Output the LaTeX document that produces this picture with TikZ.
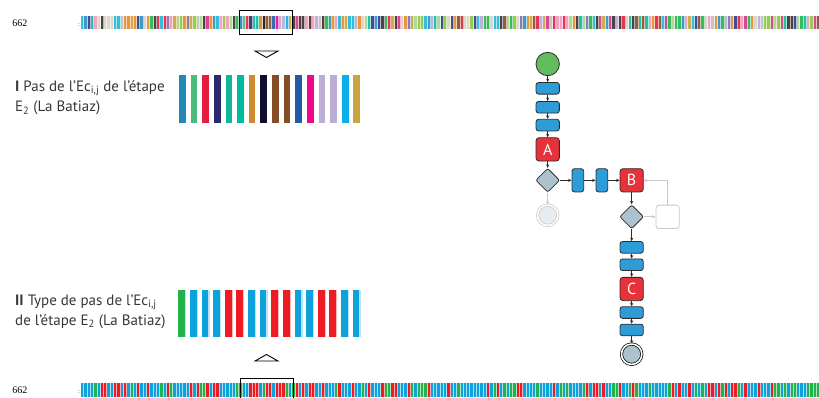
\documentclass[tikz,border=0pt]{standalone}
\usepackage{fontspec}
\setmainfont{PT Sans}
\newfontfamily\numfont{Liberation Serif}
\usetikzlibrary{shapes.geometric, arrows.meta, positioning}
\definecolor{linedark}{RGB}{45, 45, 45}
\definecolor{textgray}{RGB}{55, 55, 55}
\definecolor{taskblue}{RGB}{46, 157, 215}
\definecolor{actred}{RGB}{230, 50, 56}
\definecolor{gatebg}{RGB}{174, 194, 206}
\definecolor{startgreen}{RGB}{98, 187, 92}
\definecolor{ghostgray}{RGB}{200, 200, 200}
\definecolor{ghostfill}{RGB}{230, 236, 240}
% panel I
\definecolor{pa1}{RGB}{33, 137, 182}
\definecolor{pa2}{RGB}{76, 187, 127}
\definecolor{pa3}{RGB}{226, 31, 61}
\definecolor{pa4}{RGB}{44, 42, 108}
\definecolor{pa5}{RGB}{18, 183, 155}
\definecolor{pa6}{RGB}{0, 185, 161}
\definecolor{pa7}{RGB}{206, 138, 45}
\definecolor{pa8}{RGB}{15, 15, 45}
\definecolor{pa9}{RGB}{133, 78, 38}
\definecolor{pa10}{RGB}{133, 78, 38}
\definecolor{pa11}{RGB}{33, 90, 169}
\definecolor{pa12}{RGB}{236, 7, 141}
\definecolor{pa13}{RGB}{187, 173, 211}
\definecolor{pa14}{RGB}{187, 173, 211}
\definecolor{pa15}{RGB}{12, 174, 230}
\definecolor{pa16}{RGB}{201, 165, 64}
% panel II
\definecolor{typegreen}{RGB}{34, 177, 76}
\definecolor{typeblue}{RGB}{14, 162, 220}
\definecolor{typered}{RGB}{237, 28, 36}
% top strip palette
\definecolor{tc1}{RGB}{42, 143, 191}
\definecolor{tc2}{RGB}{34, 178, 76}
\definecolor{tc3}{RGB}{140, 198, 63}
\definecolor{tc4}{RGB}{215, 211, 196}
\definecolor{tc5}{RGB}{190, 190, 190}
\definecolor{tc6}{RGB}{122, 111, 181}
\definecolor{tc7}{RGB}{227, 30, 60}
\definecolor{tc8}{RGB}{214, 51, 138}
\definecolor{tc9}{RGB}{127, 79, 42}
\definecolor{tc10}{RGB}{58, 46, 46}
\definecolor{tc11}{RGB}{232, 138, 42}
\definecolor{tc12}{RGB}{201, 164, 62}
\definecolor{tc13}{RGB}{34, 181, 216}
\definecolor{tc14}{RGB}{43, 58, 143}
\definecolor{tc15}{RGB}{184, 169, 211}
\definecolor{tc16}{RGB}{240, 154, 185}
\definecolor{tc17}{RGB}{18, 184, 154}
\definecolor{tc18}{RGB}{168, 213, 138}
% bottom strip palette
\colorlet{bc1}{typeblue}
\colorlet{bc2}{typeblue}
\colorlet{bc3}{typeblue}
\colorlet{bc4}{typeblue}
\colorlet{bc5}{typeblue}
\colorlet{bc6}{typeblue}
\colorlet{bc7}{typered}
\colorlet{bc8}{typered}
\colorlet{bc9}{typegreen}
\colorlet{bc10}{typegreen}
\tikzset{
    task/.style={rectangle, rounded corners=2.5pt, draw=linedark, fill=taskblue, line width=0.8pt, minimum width=23.3pt, minimum height=11.6pt, inner sep=0pt},
    vtask/.style={task, minimum width=11.7pt, minimum height=23.3pt},
    act/.style={rectangle, rounded corners=3pt, draw=linedark, fill=actred, line width=0.8pt, minimum size=23.3pt, inner sep=0pt, text=white, font=\fontsize{16}{16}\selectfont},
    gate/.style={diamond, rounded corners=2pt, draw=linedark, fill=gatebg, line width=0.8pt, minimum size=24pt, inner sep=0pt},
    startev/.style={circle, draw=linedark, fill=startgreen, line width=0.8pt, minimum size=23.4pt, inner sep=0pt},
    endev/.style={circle, draw=black, double=white, double distance=1.6pt, fill=gatebg, line width=0.7pt, minimum size=20.4pt, inner sep=0pt},
    ghostend/.style={endev, draw=ghostgray, fill=ghostfill},
    ghost/.style={rectangle, rounded corners=3pt, draw=ghostgray, fill=white, line width=0.8pt, minimum size=23.3pt, inner sep=0pt},
    flow/.style={-{Stealth[length=3.5pt,width=3.2pt]}, draw=linedark, line width=0.6pt},
    ghostflow/.style={flow, draw=ghostgray},
    caption/.style={anchor=north west, align=left, inner sep=0pt, text=textgray, font=\fontsize{15}{20}\selectfont},
    linenum/.style={inner sep=0pt, font=\numfont\fontsize{10}{10}\selectfont},
    window/.style={draw=black, line width=0.9pt}
}
\begin{document}
\begin{tikzpicture}[x=1pt, y=1pt]
\useasboundingbox (0,0) rectangle (819,-397);

\pgfmathsetseed{662}
\foreach \i in {0,...,223}{
    \pgfmathrandominteger{\k}{1}{18}
    \def\cname{tc\k}
    \ifnum\i>47\relax\ifnum\i<64\relax
        \pgfmathtruncatemacro{\j}{\i-47}
        \def\cname{pa\j}
    \fi\fi
    \fill[\cname!90] ({81+3.3*\i},-16) rectangle ++(2.3,-13.3);
    \fill[\cname!35] ({83.3+3.3*\i},-16) rectangle ++(1,-13.3);
}
\foreach \i in {0,...,223}{
    \pgfmathrandominteger{\k}{1}{10}
    \def\cname{bc\k}
    \ifnum\i>47\relax\ifnum\i<64\relax
        \pgfmathtruncatemacro{\j}{\i-47}
        \ifcase\j\or\def\cname{typegreen}\or\or\or\or\def\cname{typered}\or\def\cname{typered}\or\or\or\def\cname{typered}\or\def\cname{typered}\or\or\or\def\cname{typered}\or\def\cname{typered}\fi
    \fi\fi
    \fill[\cname] ({81+3.3*\i},-383.3) rectangle ++(2.3,-13.7);
    \fill[\cname!35] ({83.3+3.3*\i},-383.3) rectangle ++(1,-13.7);
}

\node (numtop) [linenum] at (20,-23.5) {662};
\node (numbot) [linenum] at (20,-390.5) {662};
\node (coltop) [linenum, font=\numfont\fontsize{6}{6}\selectfont] at (79,-25) {:};
\node (colbot) [linenum, font=\numfont\fontsize{6}{6}\selectfont] at (79,-392) {:};

\draw[window] (239,-10) rectangle (292,-34.5);
\draw[window] (240,-398) |- (293,-378) -- (293,-398);
\draw[line width=0.9pt, line join=miter] (255,-51) -- (278,-51) -- (266.5,-57.5) -- cycle;
\draw[line width=0.9pt, line join=miter] (255,-361) -- (278,-361) -- (266.5,-354.5) -- cycle;

\foreach \c [count=\n from 0] in {pa1,pa2,pa3,pa4,pa5,pa6,pa7,pa8,pa9,pa10,pa11,pa12,pa13,pa14,pa15,pa16}
    \fill[\c] ({179+11.63*\n},-75) rectangle ++(6.7,-48.3);
\foreach \c [count=\n from 0] in {typegreen,typeblue,typeblue,typeblue,typered,typered,typeblue,typeblue,typered,typered,typeblue,typeblue,typered,typered,typeblue,typeblue}{
    \fill[\c] ({178.3+11.63*\n},-290) rectangle ++(6.7,-47);
    \fill[\c!30] ({185+11.63*\n},-290) rectangle ++(1.3,-47);
}

\node (capI) [caption] at (15,-80.5) {\textbf{I} Pas de l’Ec\textsubscript{i,j} de l’étape\\E\textsubscript{2} (La Batiaz)};
\node (capII) [caption] at (15,-294.5) {\textbf{II} Type de pas de l’Ec\textsubscript{i,j}\\de l’étape E\textsubscript{2} (La Batiaz)};

\node (st) [startev] at (547.7,-64) {};
\node (t1) [task, below=6pt of st] {};
\node (t2) [task, below=6.5pt of t1] {};
\node (t3) [task, below=5.5pt of t2] {};
\node (a) [act, below=6pt of t3] {A};
\node (g1) [gate, below=6.5pt of a] {};
\node (e1) [ghostend, below=12pt of g1] {};
\node (v1) [vtask, right=11.5pt of g1] {};
\node (v2) [vtask, right=11.5pt of v1] {};
\node (b) [act, right=11.5pt of v2] {B};
\node (g2) [gate, below=12pt of b] {};
\node (gx) [ghost, right=11.5pt of g2] {};
\node (t4) [task, below=12pt of g2] {};
\node (t5) [task, below=5pt of t4] {};
\node (c) [act, below=6pt of t5] {C};
\node (t6) [task, below=5.3pt of c] {};
\node (t7) [task, below=5pt of t6] {};
\node (e2) [endev, below=7.5pt of t7] {};

\draw [flow] (st) -- (t1);
\draw [flow] (t1) -- (t2);
\draw [flow] (t2) -- (t3);
\draw [flow] (t3) -- (a);
\draw [flow] (a) -- (g1);
\draw [flow] (g1) -- (v1);
\draw [flow] (v1) -- (v2);
\draw [flow] (v2) -- (b);
\draw [flow] (b) -- (g2);
\draw [flow] (g2) -- (t4);
\draw [flow] (t4) -- (t5);
\draw [flow] (t5) -- (c);
\draw [flow] (c) -- (t6);
\draw [flow] (t6) -- (t7);
\draw [flow] (t7) -- (e2);
\draw [ghostflow] (g1) -- (e1);
\draw [ghostflow] (g2) -- (gx);
\draw [ghostflow] (gx.north) |- (b.east);
\end{tikzpicture}
\end{document}
